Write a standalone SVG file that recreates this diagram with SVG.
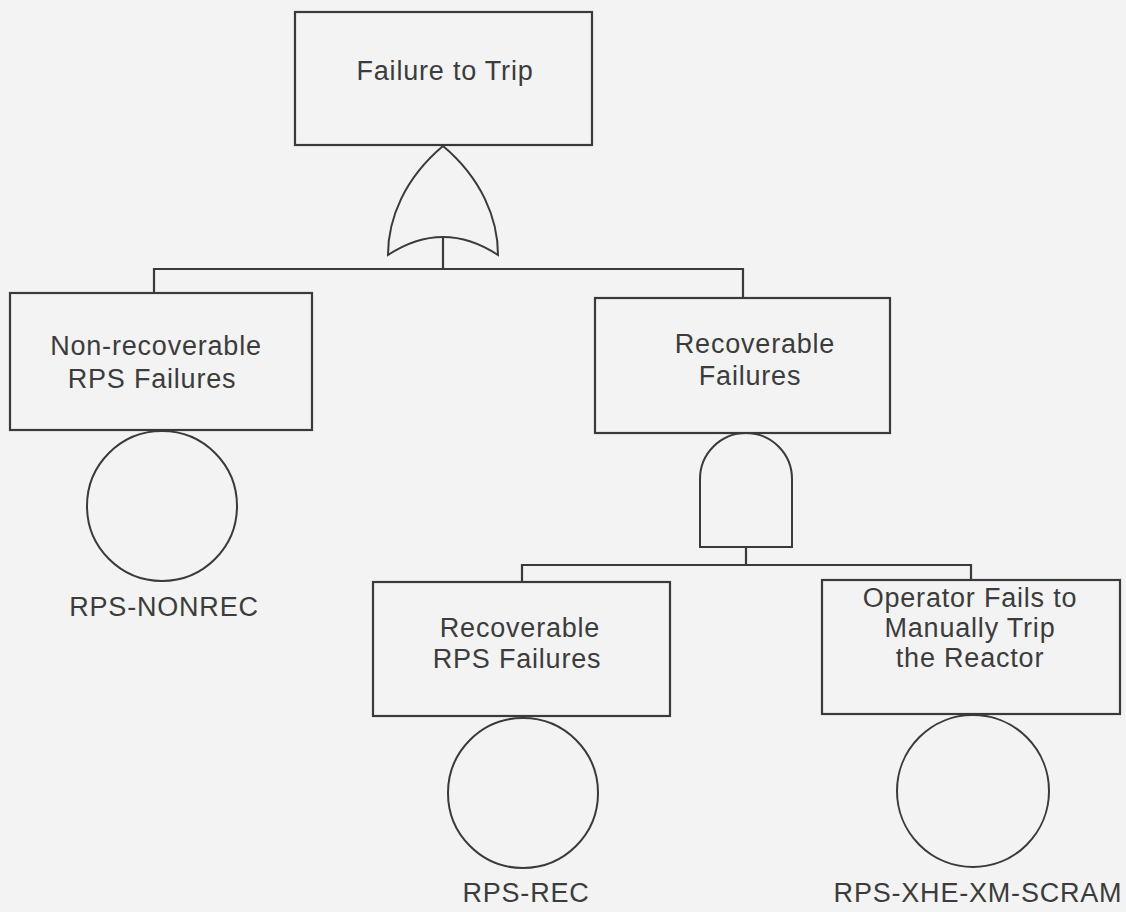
<svg xmlns="http://www.w3.org/2000/svg" width="1126" height="912" viewBox="0 0 1126 912">
<style>
.box{fill:none;stroke:#3a3a3a;stroke-width:2.2}
.gate{fill:none;stroke:#3a3a3a;stroke-width:2}
.ln{fill:none;stroke:#3a3a3a;stroke-width:2.2}
text{font-family:"Liberation Sans",Arial,sans-serif;font-size:27px;fill:#3c3c3c;text-anchor:middle;letter-spacing:0.8px}
</style>
<rect x="0" y="0" width="1126" height="912" fill="#f3f3f3"/>
<g id="connectors">
<path class="ln" d="M443 237 V269 M154 293 V269 H743 V298"/>
<path class="ln" d="M746 547 V565 M522 582 V565 H971 V580"/>
</g>
<g id="top">
<rect class="box" x="295" y="12" width="297" height="133"/>
<text x="445" y="80">Failure to Trip</text>
</g>
<g id="or-gate">
<path class="gate" d="M443 146 C405 178 388 218 388 255 Q443 219 498 255 C498 218 481 178 443 146 Z"/>
</g>
<g id="nonrec">
<rect class="box" x="10" y="293" width="302" height="137"/>
<text x="156" y="355">Non-recoverable</text>
<text x="152" y="388">RPS Failures</text>
</g>
<g id="nonrec-event">
<circle class="gate" cx="162" cy="506" r="75"/>
<text x="164" y="616">RPS-NONREC</text>
</g>
<g id="recov">
<rect class="box" x="595" y="298" width="295" height="135"/>
<text x="755" y="353">Recoverable</text>
<text x="750" y="385">Failures</text>
</g>
<g id="and-gate">
<path class="gate" d="M700 547 V479 A46 46 0 0 1 792 479 V547 Z"/>
</g>
<g id="rec-rps">
<rect class="box" x="373" y="582" width="297" height="134"/>
<text x="520" y="637">Recoverable</text>
<text x="517" y="668">RPS Failures</text>
</g>
<g id="rec-event">
<circle class="gate" cx="523" cy="793" r="75"/>
<text x="526" y="902">RPS-REC</text>
</g>
<g id="operator">
<rect class="box" x="822" y="580" width="298" height="134"/>
<text x="970" y="607">Operator Fails to</text>
<text x="970" y="637">Manually Trip</text>
<text x="970" y="667">the Reactor</text>
</g>
<g id="operator-event">
<circle class="gate" cx="973" cy="791" r="76"/>
<text x="978" y="902">RPS-XHE-XM-SCRAM</text>
</g>
</svg>
